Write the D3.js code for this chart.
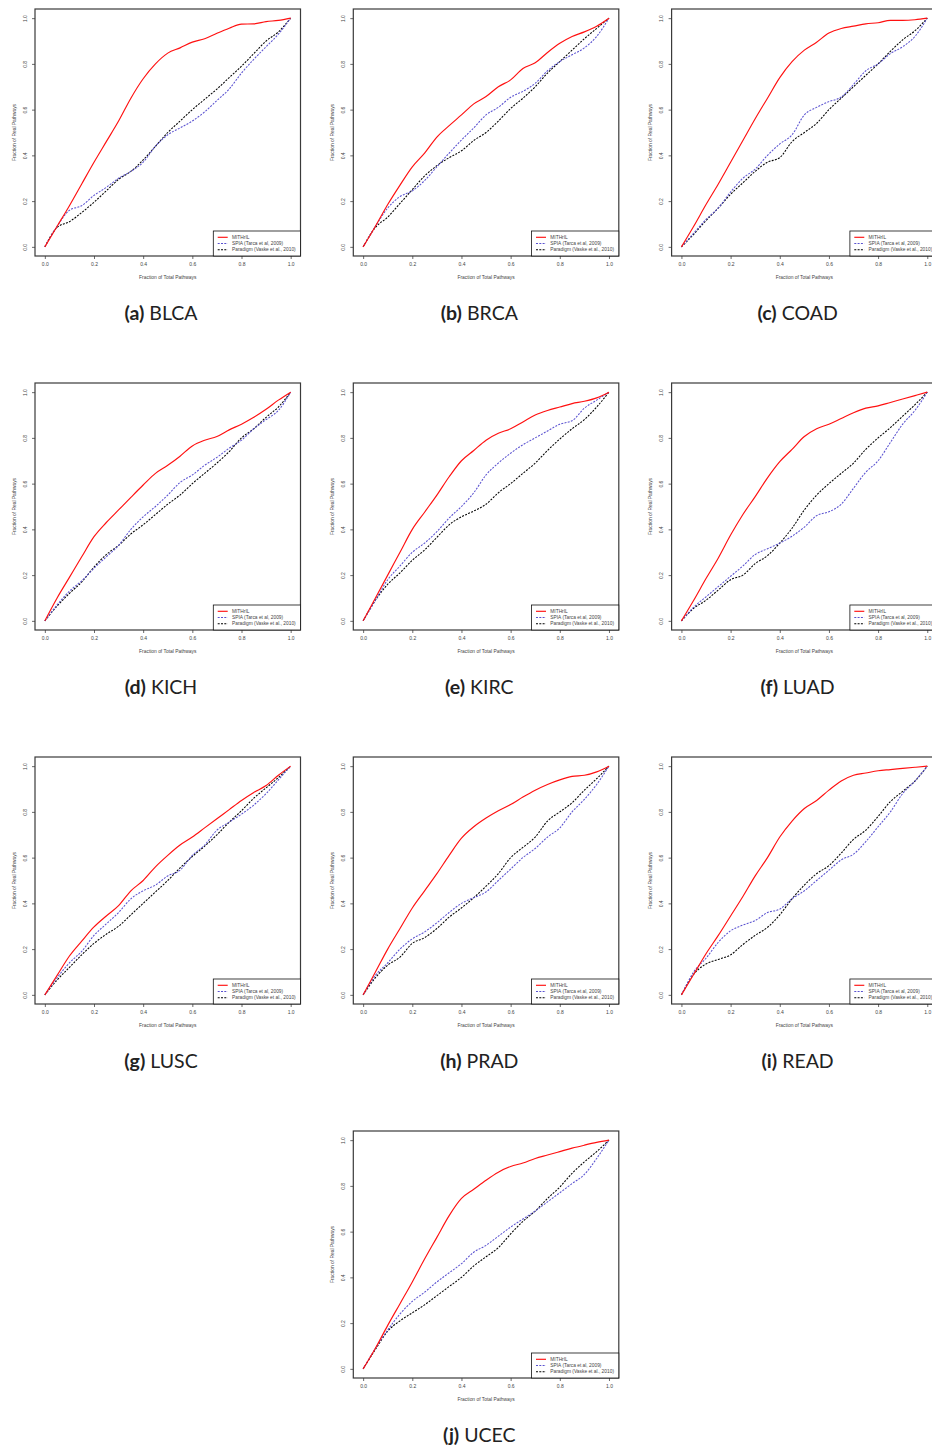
<!DOCTYPE html>
<html>
<head>
<meta charset="utf-8">
<script src="https://cdn.jsdelivr.net/npm/d3@7"></script>
<style>
    body { margin: 0; background: #fff; }
    svg { display: block; }
</style>
</head>
<body>
<div id="content"></div>
<script>
'use strict';

// shared x positions (fraction of total pathways)
var xFractions = [0, 0.05, 0.1, 0.15, 0.2, 0.25, 0.3, 0.35, 0.4, 0.45, 0.5,
    0.55, 0.6, 0.65, 0.7, 0.75, 0.8, 0.85, 0.9, 0.95, 1.0];

var panelLetters = ['a', 'b', 'c', 'd', 'e', 'f', 'g', 'h', 'i', 'j'];
var cancerTypes = ['BLCA', 'BRCA', 'COAD', 'KICH', 'KIRC', 'LUAD', 'LUSC', 'PRAD', 'READ', 'UCEC'];
var seriesNames = ['MITHrIL', 'SPIA (Tarca et al, 2009)', 'Paradigm (Vaske et al., 2010)'];
var axisTicks = [0, 0.2, 0.4, 0.6, 0.8, 1.0];

var blcaMithril = [0, 0.09, 0.18, 0.275, 0.37, 0.46, 0.55, 0.65, 0.735, 0.80, 0.847, 0.87, 0.895, 0.91, 0.934, 0.956, 0.974, 0.975, 0.985, 0.99, 1];
var blcaSpia = [0, 0.09, 0.16, 0.18, 0.225, 0.26, 0.30, 0.33, 0.37, 0.44, 0.49, 0.52, 0.55, 0.59, 0.64, 0.69, 0.76, 0.82, 0.875, 0.93, 1];
var blcaParadigm = [0, 0.085, 0.11, 0.15, 0.195, 0.245, 0.295, 0.33, 0.38, 0.44, 0.50, 0.55, 0.60, 0.645, 0.69, 0.74, 0.79, 0.845, 0.90, 0.94, 1];

var brcaMithril = [0, 0.09, 0.185, 0.27, 0.35, 0.41, 0.48, 0.53, 0.577, 0.625, 0.657, 0.70, 0.73, 0.78, 0.805, 0.85, 0.89, 0.92, 0.94, 0.965, 1];
var brcaSpia = [0, 0.09, 0.17, 0.22, 0.245, 0.29, 0.35, 0.41, 0.467, 0.52, 0.577, 0.61, 0.654, 0.68, 0.715, 0.77, 0.81, 0.84, 0.87, 0.92, 1];
var brcaParadigm = [0, 0.085, 0.13, 0.19, 0.25, 0.31, 0.355, 0.39, 0.42, 0.465, 0.50, 0.55, 0.605, 0.65, 0.70, 0.76, 0.81, 0.86, 0.91, 0.955, 1];

var coadMithril = [0, 0.09, 0.185, 0.275, 0.37, 0.465, 0.56, 0.65, 0.74, 0.81, 0.86, 0.895, 0.935, 0.955, 0.965, 0.975, 0.98, 0.99, 0.99, 0.993, 1];
var coadSpia = [0, 0.06, 0.12, 0.17, 0.24, 0.30, 0.34, 0.40, 0.45, 0.49, 0.577, 0.61, 0.635, 0.655, 0.71, 0.77, 0.80, 0.845, 0.875, 0.92, 1];
var coadParadigm = [0, 0.055, 0.115, 0.17, 0.23, 0.28, 0.33, 0.37, 0.39, 0.46, 0.50, 0.54, 0.60, 0.65, 0.70, 0.75, 0.80, 0.855, 0.905, 0.945, 1];

var kichMithril = [0, 0.10, 0.19, 0.28, 0.368, 0.43, 0.485, 0.54, 0.594, 0.645, 0.68, 0.72, 0.765, 0.79, 0.806, 0.835, 0.86, 0.89, 0.925, 0.965, 1];
var kichSpia = [0, 0.07, 0.13, 0.175, 0.23, 0.28, 0.33, 0.40, 0.455, 0.50, 0.55, 0.605, 0.638, 0.68, 0.715, 0.755, 0.79, 0.84, 0.88, 0.92, 1];
var kichParadigm = [0, 0.065, 0.12, 0.17, 0.235, 0.29, 0.33, 0.38, 0.42, 0.465, 0.51, 0.55, 0.60, 0.645, 0.69, 0.74, 0.80, 0.84, 0.89, 0.935, 1];

var kircMithril = [0, 0.10, 0.20, 0.30, 0.40, 0.475, 0.55, 0.63, 0.70, 0.745, 0.79, 0.82, 0.84, 0.87, 0.90, 0.92, 0.935, 0.95, 0.96, 0.975, 1];
var kircSpia = [0, 0.09, 0.18, 0.24, 0.30, 0.34, 0.39, 0.45, 0.50, 0.56, 0.638, 0.69, 0.733, 0.77, 0.80, 0.83, 0.86, 0.875, 0.93, 0.965, 1];
var kircParadigm = [0, 0.09, 0.16, 0.21, 0.265, 0.31, 0.365, 0.42, 0.455, 0.48, 0.51, 0.56, 0.60, 0.645, 0.69, 0.745, 0.795, 0.84, 0.88, 0.935, 1];

var luadMithril = [0, 0.09, 0.185, 0.275, 0.375, 0.465, 0.543, 0.625, 0.696, 0.75, 0.806, 0.84, 0.86, 0.885, 0.91, 0.93, 0.94, 0.955, 0.97, 0.985, 1];
var luadSpia = [0, 0.06, 0.105, 0.15, 0.195, 0.24, 0.29, 0.315, 0.34, 0.37, 0.41, 0.46, 0.477, 0.51, 0.58, 0.65, 0.70, 0.78, 0.86, 0.92, 1];
var luadParadigm = [0, 0.055, 0.09, 0.135, 0.18, 0.20, 0.25, 0.285, 0.34, 0.405, 0.485, 0.55, 0.60, 0.645, 0.69, 0.75, 0.80, 0.845, 0.895, 0.945, 1];

var luscMithril = [0, 0.085, 0.17, 0.235, 0.297, 0.345, 0.39, 0.455, 0.50, 0.56, 0.61, 0.655, 0.69, 0.73, 0.77, 0.81, 0.85, 0.885, 0.915, 0.96, 1];
var luscSpia = [0, 0.075, 0.14, 0.19, 0.26, 0.31, 0.36, 0.42, 0.455, 0.48, 0.52, 0.545, 0.61, 0.655, 0.72, 0.755, 0.79, 0.83, 0.88, 0.94, 1];
var luscParadigm = [0, 0.065, 0.12, 0.175, 0.225, 0.265, 0.30, 0.35, 0.40, 0.45, 0.50, 0.555, 0.605, 0.65, 0.70, 0.755, 0.805, 0.86, 0.905, 0.95, 1];

var pradMithril = [0, 0.10, 0.20, 0.29, 0.38, 0.455, 0.53, 0.61, 0.685, 0.735, 0.773, 0.805, 0.832, 0.865, 0.895, 0.92, 0.94, 0.955, 0.96, 0.975, 1];
var pradSpia = [0, 0.085, 0.14, 0.20, 0.245, 0.275, 0.315, 0.36, 0.40, 0.425, 0.45, 0.50, 0.55, 0.60, 0.64, 0.69, 0.73, 0.80, 0.855, 0.92, 1];
var pradParadigm = [0, 0.075, 0.13, 0.165, 0.225, 0.25, 0.29, 0.34, 0.38, 0.425, 0.475, 0.53, 0.60, 0.645, 0.69, 0.76, 0.80, 0.84, 0.895, 0.945, 1];

var readMithril = [0, 0.09, 0.18, 0.26, 0.345, 0.43, 0.52, 0.60, 0.69, 0.76, 0.815, 0.85, 0.895, 0.935, 0.96, 0.97, 0.98, 0.985, 0.99, 0.995, 1];
var readSpia = [0, 0.10, 0.16, 0.23, 0.28, 0.305, 0.325, 0.36, 0.375, 0.42, 0.455, 0.50, 0.545, 0.59, 0.615, 0.67, 0.735, 0.80, 0.88, 0.935, 1];
var readParadigm = [0, 0.09, 0.135, 0.155, 0.175, 0.22, 0.26, 0.295, 0.35, 0.42, 0.48, 0.53, 0.565, 0.62, 0.68, 0.72, 0.78, 0.845, 0.89, 0.935, 1];

var ucecMithril = [0, 0.09, 0.19, 0.285, 0.38, 0.48, 0.575, 0.67, 0.745, 0.785, 0.825, 0.86, 0.885, 0.90, 0.92, 0.935, 0.95, 0.965, 0.978, 0.99, 1];
var ucecSpia = [0, 0.09, 0.17, 0.24, 0.295, 0.335, 0.38, 0.42, 0.46, 0.51, 0.54, 0.58, 0.62, 0.655, 0.69, 0.73, 0.77, 0.81, 0.85, 0.92, 1];
var ucecParadigm = [0, 0.085, 0.165, 0.21, 0.245, 0.28, 0.32, 0.36, 0.40, 0.45, 0.49, 0.53, 0.59, 0.645, 0.69, 0.745, 0.795, 0.855, 0.905, 0.95, 1];

var panelSeries = [
    [blcaMithril, blcaSpia, blcaParadigm],
    [brcaMithril, brcaSpia, brcaParadigm],
    [coadMithril, coadSpia, coadParadigm],
    [kichMithril, kichSpia, kichParadigm],
    [kircMithril, kircSpia, kircParadigm],
    [luadMithril, luadSpia, luadParadigm],
    [luscMithril, luscSpia, luscParadigm],
    [pradMithril, pradSpia, pradParadigm],
    [readMithril, readSpia, readParadigm],
    [ucecMithril, ucecSpia, ucecParadigm]
];

var styles = [
    { color: '#ff1010', dash: null, width: 1.15 },
    { color: '#5a52d0', dash: '2,1.3', width: 1.05 },
    { color: '#000', dash: '2,1.3', width: 1.05 }
];

function run() {
    var svg = d3.select('#content')
        .append('svg')
        .attr('width', 932)
        .attr('height', 1448);

    svg.append('rect')
        .attr('width', 932)
        .attr('height', 1448)
        .attr('fill', '#fff');

    var box = { left: 35, right: 300.5, top: 9, bottom: 256 };

    // R style 4% padding around [0, 1]
    var x = d3.scaleLinear().domain([-0.04, 1.04]).range([box.left, box.right]);
    var y = d3.scaleLinear().domain([-0.04, 1.04]).range([box.bottom, box.top]);

    var line = d3.line()
        .x(function (d) { return x(d[0]); })
        .y(function (d) { return y(d[1]); })
        .curve(d3.curveMonotoneX);

    var fmt = d3.format('.1f');
    var labelFont = '"Liberation Sans", Arial, sans-serif';

    panelSeries.forEach(function (series, i) {
        var col = i === 9 ? 1 : i % 3;
        var row = Math.floor(i / 3);
        var g = svg.append('g')
            .attr('transform', 'translate(' + (col * 318.3) + ' ' + (row * 374) + ')');

        // curves (drawn in reverse so red is on top)
        series.slice().reverse().forEach(function (values, k) {
            var s = styles[series.length - 1 - k];
            g.append('path')
                .datum(values.map(function (v, j) { return [xFractions[j], v]; }))
                .attr('d', line)
                .attr('fill', 'none')
                .attr('stroke', s.color)
                .attr('stroke-width', s.width)
                .attr('stroke-dasharray', s.dash);
        });

        // x axis
        var xAxis = g.append('g')
            .attr('transform', 'translate(0 ' + box.bottom + ')')
            .call(d3.axisBottom(x).tickValues(axisTicks).tickFormat(fmt)
                .tickSize(3).tickPadding(3.2));
        xAxis.select('.domain').remove();

        // y axis, labels parallel to the axis
        var yAxis = g.append('g')
            .attr('transform', 'translate(' + box.left + ' 0)')
            .call(d3.axisLeft(y).tickValues(axisTicks).tickFormat(fmt).tickSize(3));
        yAxis.select('.domain').remove();
        yAxis.selectAll('text')
            .attr('x', null)
            .attr('dy', null)
            .attr('text-anchor', 'middle')
            .attr('transform', 'translate(-8.3 0) rotate(-90)');

        g.selectAll('.tick line').attr('stroke', '#444').attr('stroke-width', 0.8);
        g.selectAll('.tick text')
            .attr('fill', '#444')
            .style('font', '5px ' + labelFont);

        // plot frame
        g.append('rect')
            .attr('x', box.left)
            .attr('y', box.top)
            .attr('width', box.right - box.left)
            .attr('height', box.bottom - box.top)
            .attr('fill', 'none')
            .attr('stroke', '#3a3a3a')
            .attr('stroke-width', 1.2);

        // axis titles
        g.append('text')
            .attr('x', (x(0) + x(1)) / 2)
            .attr('y', 278.6)
            .attr('text-anchor', 'middle')
            .attr('fill', '#444')
            .style('font', '4.9px ' + labelFont)
            .text('Fraction of Total Pathways');

        g.append('text')
            .attr('transform', 'translate(15.6 ' + ((box.top + box.bottom) / 2) + ') rotate(-90)')
            .attr('text-anchor', 'middle')
            .attr('fill', '#444')
            .style('font', '4.9px ' + labelFont)
            .text('Fraction of Real Pathways');

        // legend, bottom-right corner
        var legend = g.append('g')
            .attr('transform', 'translate(213.3 231)');
        legend.append('rect')
            .attr('width', box.right - 213.3)
            .attr('height', box.bottom - 231)
            .attr('fill', '#fff')
            .attr('stroke', '#111')
            .attr('stroke-width', 0.8);
        seriesNames.forEach(function (name, k) {
            var ly = 6.3 + k * 6.2;
            legend.append('line')
                .attr('x1', 4.4).attr('x2', 14.4)
                .attr('y1', ly).attr('y2', ly)
                .attr('stroke', styles[k].color)
                .attr('stroke-width', styles[k].width)
                .attr('stroke-dasharray', styles[k].dash);
            legend.append('text')
                .attr('x', 18.7)
                .attr('y', ly + 1.7)
                .attr('fill', '#444')
                .style('font', '4.85px ' + labelFont)
                .text(name);
        });

        // caption
        var caption = g.append('text')
            .attr('x', 161)
            .attr('y', 320)
            .attr('text-anchor', 'middle')
            .attr('fill', '#222')
            .style('font', '19.5px Lato, sans-serif');
        caption.append('tspan')
            .style('font-weight', 'bold')
            .text('(' + panelLetters[i] + ')');
        caption.append('tspan')
            .text(' ' + cancerTypes[i]);
    });
}

document.addEventListener('DOMContentLoaded', run);
</script>
</body>
</html>
